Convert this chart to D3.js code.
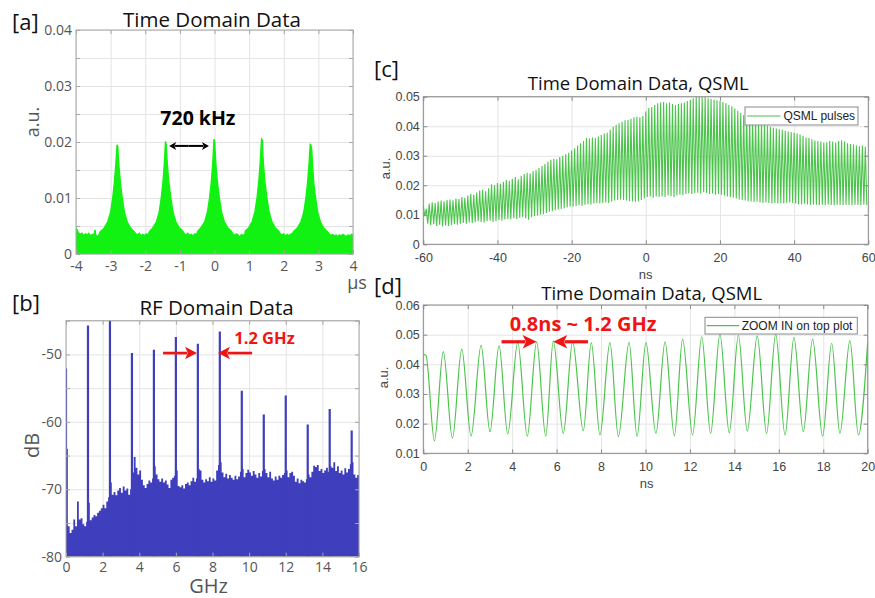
<!DOCTYPE html>
<html><head><meta charset="utf-8">
<script src="https://cdn.jsdelivr.net/npm/d3@7"></script>
<style>
body{margin:0;background:#fff;}
</style></head><body>
<svg id="fig" width="875" height="598" xmlns="http://www.w3.org/2000/svg"></svg>
<script>
// ---------- [a] time-domain pulse train (µs, a.u.) ----------
const aTime = [
  -4.00,-3.97,-3.93,-3.88,-3.83,-3.78,-3.73,-3.68,-3.63,-3.58,-3.53,-3.48,-3.45,-3.43,-3.38,-3.33,
  -3.30,-3.22,-3.18,-3.08,-3.00,-2.94,-2.89,-2.85,-2.815,-2.795,-2.77,-2.75,-2.71,-2.66,-2.60,-2.52,-2.42,-2.32,
  -2.27,-2.22,-2.17,-2.12,-2.07,-2.02,-1.97,-1.92,
  -1.88,-1.78,-1.68,-1.60,-1.54,-1.49,-1.45,-1.415,-1.395,-1.37,-1.35,-1.31,-1.26,-1.20,-1.12,-1.02,-0.92,
  -0.87,-0.82,-0.77,-0.72,-0.67,-0.62,-0.57,-0.52,
  -0.48,-0.38,-0.28,-0.20,-0.14,-0.09,-0.05,-0.015,0.005,0.03,0.05,0.09,0.14,0.20,0.28,0.38,0.48,
  0.53,0.58,0.63,0.68,0.73,0.78,0.83,0.88,
  0.89,0.99,1.09,1.17,1.23,1.28,1.32,1.36,1.385,1.40,1.42,1.46,1.51,1.57,1.65,1.75,1.85,
  1.90,1.95,2.00,2.05,2.10,2.15,2.20,2.25,
  2.30,2.40,2.50,2.58,2.64,2.69,2.73,2.765,2.79,2.81,2.83,2.87,2.92,2.98,3.06,3.16,3.26,
  3.31,3.36,3.41,3.46,3.51,3.56,3.61,3.66,3.71,3.76,3.81,3.86,3.91,3.96,4.00];
const aSignal = [
  0.0047,0.0043,0.0038,0.0035,0.0037,0.0033,0.0036,0.0034,0.0037,0.0032,0.0035,0.0034,0.0043,0.0034,0.0031,0.0035,
  0.0040,0.0044,0.0047,0.0058,0.0075,0.0100,0.0128,0.0160,0.0195,0.0192,0.0165,0.0150,0.0122,0.0098,0.0074,0.0057,0.0046,0.0040,
  0.0036,0.0034,0.0037,0.0032,0.0035,0.0033,0.0036,0.0034,
  0.0040,0.0047,0.0057,0.0074,0.0099,0.0127,0.0160,0.0201,0.0196,0.0168,0.0150,0.0124,0.0100,0.0075,0.0058,0.0047,0.0041,
  0.0036,0.0034,0.0037,0.0033,0.0035,0.0032,0.0036,0.0035,
  0.0041,0.0048,0.0058,0.0076,0.0101,0.0130,0.0163,0.0205,0.0200,0.0170,0.0152,0.0125,0.0100,0.0076,0.0058,0.0047,0.0041,
  0.0036,0.0033,0.0036,0.0034,0.0031,0.0035,0.0033,0.0036,
  0.0041,0.0047,0.0058,0.0076,0.0101,0.0130,0.0163,0.0205,0.0203,0.0175,0.0155,0.0127,0.0102,0.0077,0.0059,0.0047,0.0041,
  0.0036,0.0034,0.0036,0.0032,0.0035,0.0033,0.0035,0.0037,
  0.0041,0.0047,0.0058,0.0075,0.0100,0.0128,0.0160,0.0197,0.0193,0.0185,0.0160,0.0125,0.0100,0.0074,0.0057,0.0046,0.0040,
  0.0036,0.0033,0.0035,0.0032,0.0034,0.0031,0.0034,0.0032,0.0035,0.0033,0.0031,0.0034,0.0032,0.0035,0.0034];
const aXTicks = [-4,-3,-2,-1,0,1,2,3,4];
const aYTicks = [0,0.005,0.01,0.015,0.02,0.025,0.03,0.035,0.04];

// ---------- [b] RF spectrum (GHz, dB) ----------
const bFloorStart = 0, bFloorStep = 0.1;
const bFloor = [-64,-75.5,-76.5,-76,-74.5,-75.5,-71.8,-74.5,-74.3,-75.2,
  -75.5,-74.8,-72,-74.6,-74.2,-73.8,-74.0,-73.5,-73.2,-72.8,
  -72.3,-72.8,-71.8,-71.2,-69,-70.8,-70.4,-70.9,-70.2,-69.8,
  -70.5,-69.6,-70.2,-69.9,-70.8,-70.0,-67.5,-65.2,-66.8,-67.8,
  -67.2,-68.6,-69.4,-69.8,-69.2,-68.7,-69.0,-68.4,-66.6,-67.8,
  -68.5,-68.9,-68.4,-69.0,-68.7,-69.3,-69.8,-68.6,-68.3,-68.0,
  -67.2,-69.5,-69.7,-69.4,-69.9,-69.2,-69.0,-69.4,-68.8,-68.3,
  -68.9,-68.4,-67.0,-67.2,-68.6,-69.0,-68.5,-68.8,-68.2,-68.9,
  -68.4,-68.7,-67.2,-66.4,-66.0,-67.5,-68.2,-67.7,-68.4,-67.9,
  -68.3,-68.6,-68.0,-68.5,-68.1,-67.4,-67.0,-68.2,-67.6,-67.1,
  -67.5,-68.0,-67.3,-67.8,-68.3,-67.6,-68.1,-67.3,-67.0,-67.6,
  -68.2,-67.4,-68.4,-68.7,-68.1,-68.6,-68.0,-68.3,-67.9,-67.6,
  -67.2,-68.2,-67.6,-67.4,-68.0,-68.9,-68.4,-69.1,-68.6,-68.8,
  -69.0,-68.5,-67.8,-68.2,-67.4,-66.5,-66.7,-66.4,-67.3,-67.0,
  -67.6,-67.2,-66.8,-67.4,-66.6,-66.8,-66.0,-67.3,-66.6,-67.6,
  -67.2,-67.8,-66.9,-67.5,-67.0,-66.3,-66.0,-67.8,-68.3,-67.9,
  -69.8];
const bPeakFreq = [0,1.2,2.4,3.6,4.8,6.0,7.2,8.4,9.6,10.8,12.0,13.2,14.4,15.6];
const bPeakLevel = [-52.1,-45.7,-44.0,-49.8,-49.3,-47.4,-48.4,-46.6,-55.4,-58.9,-56.1,-60.4,-58.1,-61.3];
const bXTicks = [0,2,4,6,8,10,12,14,16];
const bYTicks = [-80,-75,-70,-65,-60,-55,-50,-45];

// ---------- [c] QSML pulse train, -60..60 ns, one peak/trough per 0.8 ns cycle ----------
const cStart = -60, cPeriod = 0.8;
const cPeaks = [
  0.0130,0.0120,0.0138,0.0142,0.0140,0.0145,0.0148,0.0146,0.0150,0.0152,
  0.0149,0.0155,0.0153,0.0160,0.0158,0.0165,0.0170,0.0168,0.0175,0.0182,
  0.0185,0.0180,0.0190,0.0203,0.0200,0.0208,0.0205,0.0212,0.0218,0.0215,
  0.0222,0.0228,0.0220,0.0232,0.0238,0.0242,0.0240,0.0248,0.0252,0.0258,
  0.0265,0.0272,0.0280,0.0286,0.0290,0.0288,0.0296,0.0300,0.0305,0.0310,
  0.0318,0.0325,0.0335,0.0342,0.0350,0.0360,0.0358,0.0362,0.0360,0.0365,
  0.0370,0.0375,0.0378,0.0388,0.0398,0.0405,0.0410,0.0415,0.0420,0.0422,
  0.0425,0.0430,0.0432,0.0430,0.0435,0.0450,0.0462,0.0465,0.0472,0.0478,
  0.0480,0.0482,0.0478,0.0480,0.0475,0.0472,0.0475,0.0478,0.0480,0.0485,
  0.0490,0.0495,0.0500,0.0500,0.0498,0.0500,0.0495,0.0492,0.0490,0.0488,
  0.0485,0.0482,0.0478,0.0472,0.0468,0.0460,0.0452,0.0445,0.0438,0.0432,
  0.0428,0.0425,0.0420,0.0415,0.0410,0.0405,0.0402,0.0398,0.0395,0.0392,
  0.0390,0.0388,0.0385,0.0382,0.0380,0.0378,0.0375,0.0372,0.0368,0.0362,
  0.0360,0.0356,0.0352,0.0350,0.0348,0.0345,0.0346,0.0350,0.0348,0.0345,
  0.0350,0.0352,0.0348,0.0342,0.0340,0.0338,0.0335,0.0332,0.0335,0.0330];
const cTroughs = [
  0.0095,0.0070,0.0065,0.0068,0.0062,0.0066,0.0060,0.0064,0.0062,0.0065,
  0.0068,0.0066,0.0070,0.0072,0.0070,0.0074,0.0072,0.0075,0.0078,0.0076,
  0.0074,0.0078,0.0080,0.0076,0.0078,0.0082,0.0080,0.0084,0.0086,0.0085,
  0.0088,0.0086,0.0090,0.0092,0.0088,0.0083,0.0092,0.0096,0.0098,0.0100,
  0.0102,0.0106,0.0110,0.0112,0.0115,0.0118,0.0120,0.0122,0.0125,0.0128,
  0.0128,0.0130,0.0132,0.0130,0.0134,0.0136,0.0135,0.0138,0.0140,0.0138,
  0.0140,0.0142,0.0140,0.0145,0.0148,0.0150,0.0152,0.0150,0.0148,0.0146,
  0.0145,0.0144,0.0146,0.0150,0.0155,0.0160,0.0162,0.0158,0.0162,0.0160,
  0.0162,0.0160,0.0165,0.0163,0.0160,0.0165,0.0168,0.0166,0.0170,0.0172,
  0.0170,0.0174,0.0175,0.0172,0.0176,0.0174,0.0170,0.0172,0.0168,0.0170,
  0.0168,0.0165,0.0162,0.0160,0.0158,0.0155,0.0152,0.0150,0.0148,0.0146,
  0.0145,0.0143,0.0144,0.0142,0.0140,0.0142,0.0140,0.0138,0.0140,0.0138,
  0.0140,0.0138,0.0140,0.0142,0.0140,0.0138,0.0136,0.0135,0.0137,0.0135,
  0.0133,0.0135,0.0134,0.0132,0.0134,0.0133,0.0135,0.0133,0.0132,0.0134,
  0.0133,0.0132,0.0134,0.0133,0.0132,0.0134,0.0133,0.0132,0.0134,0.0133];
const cXTicks = [-60,-40,-20,0,20,40,60];
const cYTicks = [0,0.01,0.02,0.03,0.04,0.05];

// ---------- [d] zoom 0..20 ns: successive maxima / minima ----------
const dTime = [0,0.12,0.50,0.90,1.31,1.73,2.15,2.60,3.00,3.41,3.80,4.25,4.68,5.10,5.51,5.85,
  6.30,6.72,7.20,7.56,7.95,8.40,8.78,9.26,9.62,10.02,10.47,10.88,11.30,11.67,12.12,12.53,
  12.93,13.35,13.77,14.18,14.58,15.03,15.45,15.86,16.28,16.68,17.10,17.52,17.97,18.38,
  18.75,19.20,19.58,20.0];
const dValue = [0.0434,0.0430,0.0142,0.0443,0.0151,0.0451,0.0158,0.0465,0.0173,0.0463,0.0165,
  0.0474,0.0158,0.0476,0.0158,0.0479,0.0167,0.0476,0.0176,0.0473,0.0162,0.0473,0.0156,0.0474,
  0.0157,0.0473,0.0167,0.0476,0.0159,0.0485,0.0162,0.0493,0.0167,0.0501,0.0169,0.0498,0.0175,
  0.0496,0.0167,0.0502,0.0162,0.0491,0.0173,0.0485,0.0158,0.0471,0.0167,0.0480,0.0162,0.0476];
const dXTicks = [0,2,4,6,8,10,12,14,16,18,20];
const dYTicks = [0.01,0.02,0.03,0.04,0.05,0.06];

// ---------- drawing ----------
const svg = d3.select("#fig");
const OPEN = "'Open Sans', sans-serif";
const ARIAL = "'Liberation Sans', Arial, sans-serif";
const fmtDec = d => d === 0 ? "0" : d3.format(".2f")(d);
const fmtInt = d => String(d);

function axesBox(cfg) {
  const g = svg.append("g");
  const x = d3.scaleLinear().domain(cfg.xDomain).range([cfg.left, cfg.right]);
  const y = d3.scaleLinear().domain(cfg.yDomain).range([cfg.bottom, cfg.top]);
  const w = cfg.right - cfg.left, h = cfg.bottom - cfg.top;

  // grid
  const gx = g.append("g").attr("transform", `translate(0,${cfg.bottom})`)
    .call(d3.axisBottom(x).tickValues(cfg.xGrid).tickSize(-h).tickFormat(""));
  const gy = g.append("g").attr("transform", `translate(${cfg.left},0)`)
    .call(d3.axisLeft(y).tickValues(cfg.yGrid).tickSize(-w).tickFormat(""));
  [gx, gy].forEach(s => { s.select(".domain").remove(); s.selectAll("line").attr("stroke", "#e4e4e4"); });

  // clipped data layer
  svg.append("defs").append("clipPath").attr("id", cfg.id)
    .append("rect").attr("x", cfg.left).attr("y", cfg.top).attr("width", w).attr("height", h);
  const layer = g.append("g").attr("clip-path", `url(#${cfg.id})`);

  // inward ticks on all four sides, labels bottom + left
  const styleAxis = s => {
    s.select(".domain").remove();
    s.attr("font-family", cfg.font).attr("font-size", cfg.fs);
    s.selectAll("line").attr("stroke", cfg.frame);
    s.selectAll("text").attr("fill", cfg.labelColor);
  };
  const tk = 4;
  const axB = g.append("g").attr("transform", `translate(0,${cfg.bottom})`)
    .call(d3.axisBottom(x).tickValues(cfg.xTicks).tickSizeInner(-tk).tickSizeOuter(0)
      .tickPadding(cfg.xPad).tickFormat(cfg.xFmt));
  const axT = g.append("g").attr("transform", `translate(0,${cfg.top})`)
    .call(d3.axisTop(x).tickValues(cfg.xTicks).tickSizeInner(-tk).tickSizeOuter(0).tickFormat(""));
  const axL = g.append("g").attr("transform", `translate(${cfg.left},0)`)
    .call(d3.axisLeft(y).tickValues(cfg.yTicks).tickSizeInner(-tk).tickSizeOuter(0)
      .tickPadding(cfg.yPad).tickFormat(cfg.yFmt));
  const axR = g.append("g").attr("transform", `translate(${cfg.right},0)`)
    .call(d3.axisRight(y).tickValues(cfg.yTicks).tickSizeInner(-tk).tickSizeOuter(0).tickFormat(""));
  [axB, axT, axL, axR].forEach(styleAxis);

  const top = g.append("g");
  top.append("rect").attr("x", cfg.left).attr("y", cfg.top).attr("width", w).attr("height", h)
    .attr("fill", "none").attr("stroke", cfg.frame).attr("stroke-width", 1);
  return { g: top, layer, x, y };
}

function arrow(g, x1, y1, x2, color, lw, hl, hw) {
  const dir = Math.sign(x2 - x1);
  g.append("line").attr("x1", x1).attr("y1", y1).attr("x2", x2 - dir * hl * 0.8).attr("y2", y1)
    .attr("stroke", color).attr("stroke-width", lw);
  g.append("path").attr("d", `M${x2},${y1} L${x2 - dir * hl},${y1 - hw} L${x2 - dir * hl * 0.75},${y1} L${x2 - dir * hl},${y1 + hw} Z`)
    .attr("fill", color);
}

function label(txt, x, y, o) {
  const t = svg.append("text").attr("x", x).attr("y", y).text(txt)
    .attr("font-family", o.font).attr("font-size", o.fs).attr("fill", o.fill || "#111")
    .attr("text-anchor", o.anchor || "middle");
  if (o.weight) t.attr("font-weight", o.weight);
  if (o.rotate) t.attr("transform", `rotate(-90,${x},${y})`);
  return t;
}

// ===== [a] =====
{
  const P = axesBox({ id: "clipA", left: 76, right: 353, top: 30, bottom: 254,
    xDomain: [-4, 4], yDomain: [0, 0.04], xGrid: aXTicks, yGrid: aYTicks,
    xTicks: aXTicks, yTicks: aYTicks, xFmt: fmtInt,
    yFmt: d => (Math.round(d * 1000) % 10 === 0 ? fmtDec(d) : ""),
    xPad: 7, yPad: 4, font: OPEN, fs: 14, labelColor: "#555", frame: "#a6a6a6" });
  const pts = aTime.map((t, i) => [t, aSignal[i]]);
  P.layer.append("path").datum(pts)
    .attr("d", d3.area().x(d => P.x(d[0])).y0(P.y(0)).y1(d => P.y(d[1])))
    .attr("fill", "#12f212").attr("stroke", "#12f212").attr("stroke-width", 1.4);
  label("Time Domain Data", 212, 27, { font: OPEN, fs: 20.5 });
  label("[a]", 12, 30, { font: OPEN, fs: 22, anchor: "start" });
  label("a.u.", 39, 122, { font: OPEN, fs: 18, fill: "#555", rotate: true });
  label("µs", 357, 289, { font: OPEN, fs: 18, fill: "#555" });
  // repetition-rate annotation
  const ya = P.y(0.0193);
  const ag = svg.append("g");
  arrow(ag, P.x(-0.75), ya, P.x(-1.31), "#000", 2, 7, 4);
  arrow(ag, P.x(-0.75), ya, P.x(-0.16), "#000", 2, 7, 4);
  label("720 kHz", P.x(-0.48), P.y(0.0231), { font: OPEN, fs: 19.5, weight: 700, fill: "#000" });
}

// ===== [b] =====
{
  const P = axesBox({ id: "clipB", left: 66, right: 359, top: 320.7, bottom: 556.7,
    xDomain: [0, 16], yDomain: [-80, -45], xGrid: bXTicks, yGrid: bYTicks,
    xTicks: bXTicks, yTicks: bYTicks, xFmt: fmtInt,
    yFmt: d => (d % 10 === 0 ? String(d) : ""),
    xPad: 5, yPad: 4, font: OPEN, fs: 14, labelColor: "#555", frame: "#a6a6a6" });
  const blue = "#3f3fbd";
  const floorPts = bFloor.map((v, i) => [bFloorStart + i * bFloorStep, v]);
  P.layer.append("path").datum(floorPts)
    .attr("d", d3.area().curve(d3.curveStepAfter).x(d => P.x(d[0])).y0(P.y(-80)).y1(d => P.y(d[1])))
    .attr("fill", blue);
  P.layer.selectAll("line.pk").data(bPeakFreq).join("line").attr("class", "pk")
    .attr("x1", d => P.x(d)).attr("x2", d => P.x(d))
    .attr("y1", P.y(-80)).attr("y2", (d, i) => P.y(bPeakLevel[i]))
    .attr("stroke", blue).attr("stroke-width", 2.2);
  label("RF Domain Data", 216.5, 315, { font: OPEN, fs: 20.5 });
  label("[b]", 12, 311, { font: OPEN, fs: 22, anchor: "start" });
  label("dB", 39, 445.5, { font: OPEN, fs: 20, fill: "#555", rotate: true });
  label("GHz", 208.5, 593, { font: OPEN, fs: 20, fill: "#555" });
  const ar = svg.append("g");
  const yb = P.y(-49.8);
  arrow(ar, P.x(5.3), yb, P.x(7.15), "#f01414", 2.7, 12, 6.3);
  arrow(ar, P.x(10.16), yb, P.x(8.3), "#f01414", 2.7, 12, 6.3);
  label("1.2 GHz", P.x(10.84), P.y(-48.5), { font: OPEN, fs: 16.5, weight: 700, fill: "#f01414" });
}

// ===== [c] =====
{
  const P = axesBox({ id: "clipC", left: 423.3, right: 868.3, top: 96.7, bottom: 244.3,
    xDomain: [-60, 60], yDomain: [0, 0.05], xGrid: cXTicks, yGrid: cYTicks,
    xTicks: cXTicks, yTicks: cYTicks, xFmt: fmtInt, yFmt: fmtDec,
    xPad: 8.5, yPad: 3.5, font: ARIAL, fs: 12.5, labelColor: "#444", frame: "#8a8a8a" });
  const pts = [];
  cPeaks.forEach((p, i) => {
    pts.push([cStart + i * cPeriod, p]);
    pts.push([cStart + i * cPeriod + cPeriod / 2, cTroughs[i]]);
  });
  P.layer.append("path").datum(pts)
    .attr("d", d3.line().x(d => P.x(d[0])).y(d => P.y(d[1])))
    .attr("fill", "none").attr("stroke", "#4cc44c").attr("stroke-width", 1.1);
  // legend
  const lg = P.g.append("g");
  lg.append("rect").attr("x", 745).attr("y", 107).attr("width", 113).attr("height", 18)
    .attr("fill", "#fff").attr("stroke", "#8a8a8a");
  lg.append("line").attr("x1", 747).attr("x2", 780.5).attr("y1", 116).attr("y2", 116)
    .attr("stroke", "#4cc44c").attr("stroke-width", 1.2);
  lg.append("text").attr("x", 783.5).attr("y", 120.3).text("QSML pulses")
    .attr("font-family", ARIAL).attr("font-size", 12).attr("fill", "#222");
  label("Time Domain Data, QSML", 638.3, 89.5, { font: OPEN, fs: 18.5 });
  label("[c]", 374, 76.5, { font: OPEN, fs: 22, anchor: "start" });
  label("a.u.", 390, 168.5, { font: ARIAL, fs: 13, fill: "#444", rotate: true });
  label("ns", 645.7, 279, { font: ARIAL, fs: 13, fill: "#444" });
}

// ===== [d] =====
{
  const P = axesBox({ id: "clipD", left: 423.3, right: 867.7, top: 305, bottom: 453.3,
    xDomain: [0, 20], yDomain: [0.01, 0.06], xGrid: dXTicks, yGrid: dYTicks,
    xTicks: dXTicks, yTicks: dYTicks, xFmt: fmtInt, yFmt: fmtDec,
    xPad: 9, yPad: 3.5, font: ARIAL, fs: 12.5, labelColor: "#444", frame: "#8a8a8a" });
  const pts = dTime.map((t, i) => [t, dValue[i]]);
  P.layer.append("path").datum(pts)
    .attr("d", d3.line().curve(d3.curveMonotoneX).x(d => P.x(d[0])).y(d => P.y(d[1])))
    .attr("fill", "none").attr("stroke", "#4cc44c").attr("stroke-width", 1.2);
  const lg = P.g.append("g");
  lg.append("rect").attr("x", 705).attr("y", 317.3).attr("width", 152.3).attr("height", 16.7)
    .attr("fill", "#fff").attr("stroke", "#8a8a8a");
  lg.append("line").attr("x1", 706.7).attr("x2", 739.3).attr("y1", 325.7).attr("y2", 325.7)
    .attr("stroke", "#4cc44c").attr("stroke-width", 1.2);
  lg.append("text").attr("x", 741.7).attr("y", 330).text("ZOOM IN on top plot")
    .attr("font-family", ARIAL).attr("font-size", 12).attr("fill", "#222");
  label("Time Domain Data, QSML", 651.7, 299.5, { font: OPEN, fs: 18.5 });
  label("[d]", 374, 294, { font: OPEN, fs: 22, anchor: "start" });
  label("a.u.", 388, 377.5, { font: ARIAL, fs: 13, fill: "#444", rotate: true });
  label("ns", 646.7, 487.5, { font: ARIAL, fs: 13, fill: "#444" });
  const ar = svg.append("g");
  const yd = P.y(0.0476);
  arrow(ar, P.x(3.52), yd, P.x(5.10), "#f01414", 3.2, 14, 6.7);
  arrow(ar, P.x(7.41), yd, P.x(5.85), "#f01414", 3.2, 14, 6.7);
  label("0.8ns ~ 1.2 GHz", P.x(7.19), P.y(0.0514), { font: OPEN, fs: 20, weight: 700, fill: "#f01414" });
}
</script>
</body></html>
